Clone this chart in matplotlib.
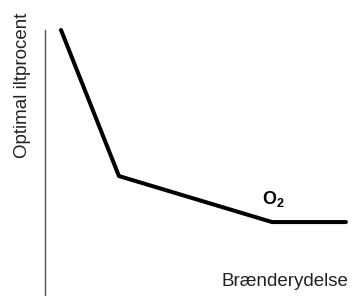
import matplotlib
matplotlib.use("Agg")
import matplotlib.pyplot as plt

burner_load = [0.052, 0.24, 0.737, 0.977]
optimal_o2 = [1.0, 0.451, 0.278, 0.278]

plt.rcParams['font.family'] = ['Liberation Sans', 'DejaVu Sans']
plt.rcParams['mathtext.fontset'] = 'custom'
plt.rcParams['mathtext.rm'] = 'Liberation Sans'
plt.rcParams['mathtext.bf'] = 'Liberation Sans:bold'

fig = plt.figure(figsize=(3.53, 2.96), dpi=100)
ax = fig.add_axes([45/353, 0, 308/353, 266/296])
ax.plot(burner_load, optimal_o2, color='black', lw=2.9, solid_capstyle='round', solid_joinstyle='round', clip_on=False)
ax.set_xlim(0, 1)
ax.set_ylim(0, 1)
for s in ['top', 'right', 'bottom']:
    ax.spines[s].set_visible(False)
ax.spines['left'].set_color('#555555')
ax.spines['left'].set_linewidth(1.0)
ax.set_xticks([])
ax.set_yticks([])
fig.text(23/353, 1 - 85/296, 'Optimal iltprocent', rotation=90, ha='center', va='center', fontsize=13.5, color='#222222')
fig.text(285/353, 1 - 282/296, 'Brænderydelse', ha='center', va='center', fontsize=13.5, color='#222222')
fig.text(273/353, 1 - 199/296, r'$\mathbf{O_2}$', ha='center', va='center', fontsize=13)
fig.savefig('out.png', dpi=100)
